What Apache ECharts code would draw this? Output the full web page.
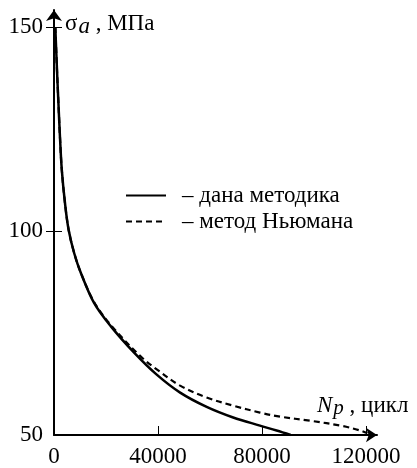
<!DOCTYPE html>
<html><head><meta charset="utf-8">
<script src="https://cdn.jsdelivr.net/npm/echarts@6/dist/echarts.min.js"></script>
<style>html,body{margin:0;padding:0;background:#fff}#c{width:417px;height:468px}</style>
</head><body><div id="c"></div>
<script>
const seriesNames = ['– дана методика', '– метод Ньюмана'];
const nSolid = [500, 1150, 1700, 2300, 3000, 4200, 5600, 7800, 10300, 15400, 21800, 30800, 39500, 48500, 58700, 68900, 79200, 85600, 91000];
const sSolid = [150, 139.5, 131.4, 123, 115, 107, 100.4, 94.5, 89.8, 82.4, 76.7, 70.2, 64.8, 60.4, 56.9, 54.3, 52.3, 51.1, 50];
const nDash = [500, 1150, 1700, 2300, 3000, 4200, 5600, 7800, 10300, 15400, 21800, 33100, 39500, 48500, 58700, 68900, 79200, 86900, 98500, 111000, 117700, 120500];
const sDash = [150, 139.5, 131.4, 123, 115, 107, 100.4, 94.5, 89.8, 82.6, 77, 69.4, 66.1, 62.1, 59.2, 57.2, 55.5, 54.5, 53.5, 52.2, 51.1, 50.4];
const xTickLabels = [0, 40000, 80000, 120000];
const xTicks = [40000, 80000, 120000];
const yTickLabels = [50, 100, 150];
const yTicks = [100, 150];

const FONT = '"Liberation Serif","DejaVu Serif",serif';
const FS = 23;
const zip = (a, b) => a.map((v, i) => [v, b[i]]);

const chart = echarts.init(document.getElementById('c'), null, {renderer: 'canvas'});
chart.setOption({
  animation: false,
  backgroundColor: '#fff',
  grid: {left: 54, right: 40, top: 10, bottom: 32, containLabel: false},
  xAxis: {
    type: 'value', min: 0, max: 124200,
    splitLine: {show: false},
    axisLine: {lineStyle: {color: '#000', width: 2}, symbol: ['none', 'arrow'], symbolSize: [11, 11]},
    axisTick: {inside: true, length: 9, lineStyle: {color: '#000', width: 1}, customValues: xTicks},
    axisLabel: {color: '#000', fontFamily: FONT, fontSize: FS, margin: 10, customValues: xTickLabels, formatter: v => String(v)}
  },
  yAxis: [{
    type: 'value', min: 50, max: 154.2,
    splitLine: {show: false},
    axisLine: {lineStyle: {color: '#000', width: 2}, symbol: ['none', 'arrow'], symbolSize: [12, 11]},
    axisTick: {inside: true, length: 8, lineStyle: {color: '#000', width: 1}, customValues: yTicks},
    axisLabel: {color: '#000', fontFamily: FONT, fontSize: FS, margin: 11, customValues: yTickLabels}
  }, {
    type: 'value', min: 50, max: 154.2, position: 'left',
    splitLine: {show: false},
    axisLine: {show: false},
    axisTick: {inside: false, length: 8, lineStyle: {color: '#000', width: 1}, customValues: yTicks},
    axisLabel: {show: false}
  }],
  legend: {
    orient: 'vertical', left: 120, top: 179,
    itemWidth: 40, itemHeight: 14, itemGap: 3,
    itemStyle: {opacity: 0},
    textStyle: {color: '#000', fontFamily: FONT, fontSize: FS, padding: [0, 0, 0, 11]},
    data: seriesNames
  },
  series: [{
    name: seriesNames[0], type: 'line', smooth: 0.35, showSymbol: false, symbol: 'none',
    lineStyle: {color: '#000', width: 2.5, type: 'solid'},
    itemStyle: {color: '#000'},
    data: zip(nSolid, sSolid)
  }, {
    name: seriesNames[1], type: 'line', smooth: 0.35, showSymbol: false, symbol: 'none',
    lineStyle: {color: '#000', width: 2.2, type: [6, 4]},
    itemStyle: {color: '#000'},
    data: zip(nDash, sDash)
  }],
  graphic: [{
    type: 'text', x: 65, y: 9,
    style: {
      text: '{s|σ}{i|a}{n| , МПа}',
      rich: {
        s: {fontFamily: FONT, fontSize: FS, fill: '#000'},
        i: {fontFamily: FONT, fontSize: FS, fontStyle: 'italic', fill: '#000', padding: [6, 0, 0, 1]},
        n: {fontFamily: FONT, fontSize: FS, fill: '#000'}
      }
    }
  }, {
    type: 'text', x: 317, y: 392,
    style: {
      text: '{i|N}{p|p}{n| , цикл}',
      rich: {
        i: {fontFamily: FONT, fontSize: FS, fontStyle: 'italic', fill: '#000'},
        p: {fontFamily: FONT, fontSize: FS - 2, fontStyle: 'italic', fill: '#000', padding: [6, 0, 0, 1]},
        n: {fontFamily: FONT, fontSize: FS, fill: '#000'}
      }
    }
  }]
});
</script></body></html>
